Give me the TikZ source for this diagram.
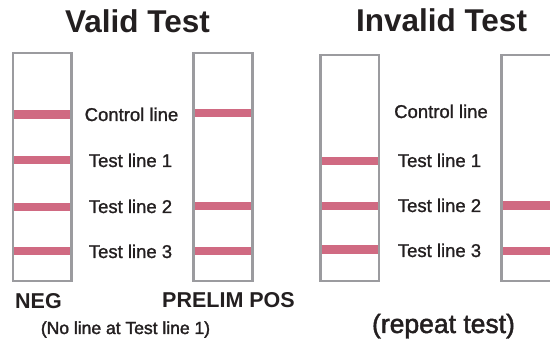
\documentclass[tikz,border=0pt]{standalone}
\usepackage{fontspec}
\setmainfont{Liberation Sans}
\newfontfamily\medfont{Liberation Sans}[FakeBold=1.2]
\newfontfamily\semifont{Liberation Sans}[FakeBold=1.8]
\definecolor{stripgray}{HTML}{9B9B9F}
\definecolor{bandpink}{HTML}{D06A82}
\definecolor{inkdark}{HTML}{231F20}
\tikzset{
  strip/.style={draw=stripgray, line width=2.7pt},
  band/.style={bandpink, line width=8.5pt},
  lbl/.style={inkdark, inner sep=0pt, anchor=base, font=\medfont\fontsize{18.5}{20}\selectfont},
  ttl/.style={inkdark, inner sep=0pt, anchor=base, font=\fontsize{31.5}{34}\selectfont\bfseries},
  res/.style={inkdark, inner sep=0pt, anchor=base, font=\fontsize{21.5}{24}\selectfont\bfseries},
  note/.style={inkdark, inner sep=0pt, anchor=base}
}
\begin{document}
\begin{tikzpicture}[x=1pt,y=-1pt]
\useasboundingbox (0,0) rectangle (550,342);
%\draw[step=50,gray,very thin] (0,0) grid (550,342);
\node[ttl] (validttl) at (137.5,33) {Valid Test};
\node[ttl] (invalidttl) at (441.5,32) {Invalid Test};

% NEG strip
\draw[band] (13,114.3) -- (71.7,114.3);
\draw[band] (13,160) -- (71.7,160);
\draw[band] (13,207) -- (71.7,207);
\draw[band] (13,251) -- (71.7,251);
\draw[strip] (13,53) rectangle (71.7,281);
% PRELIM POS strip
\draw[band] (193.7,113) -- (252.3,113);
\draw[band] (193.7,206) -- (252.3,206);
\draw[band] (193.7,251) -- (252.3,251);
\draw[strip] (193.7,53) rectangle (252.3,281);

\node[lbl] (ctrlA) at (131.5,121) {Control line};
\node[lbl] (testA1) at (130.5,167) {Test line 1};
\node[lbl] (testA2) at (130.5,213) {Test line 2};
\node[lbl] (testA3) at (130.5,258) {Test line 3};

\node[res, anchor=base west] (neg) at (15,309) {NEG};
\node[res] (prelim) at (228.5,308) {PRELIM POS};
\node[note, font=\semifont\fontsize{17.5}{20}\selectfont] (noline) at (125.5,334) {(No line at Test line 1)};

%------------------------------------------------

% invalid strips
\draw[band] (320.3,161) -- (379,161);
\draw[band] (320.3,206) -- (379,206);
\draw[band] (320.3,249.5) -- (379,249.5);
\draw[strip] (320.3,55) rectangle (379,281);
\draw[band] (501.5,205.5) -- (560,205.5);
\draw[band] (501.5,251) -- (560,251);
\draw[strip] (501.5,55) rectangle (560,281);

\node[lbl] (ctrlB) at (441,118) {Control line};
\node[lbl] (testB1) at (439.5,167) {Test line 1};
\node[lbl] (testB2) at (439.5,212) {Test line 2};
\node[lbl] (testB3) at (439.5,257) {Test line 3};

\node[note, font=\semifont\fontsize{26.5}{30}\selectfont] (repeat) at (443.5,333) {(repeat test)};
\end{tikzpicture}
\end{document}
